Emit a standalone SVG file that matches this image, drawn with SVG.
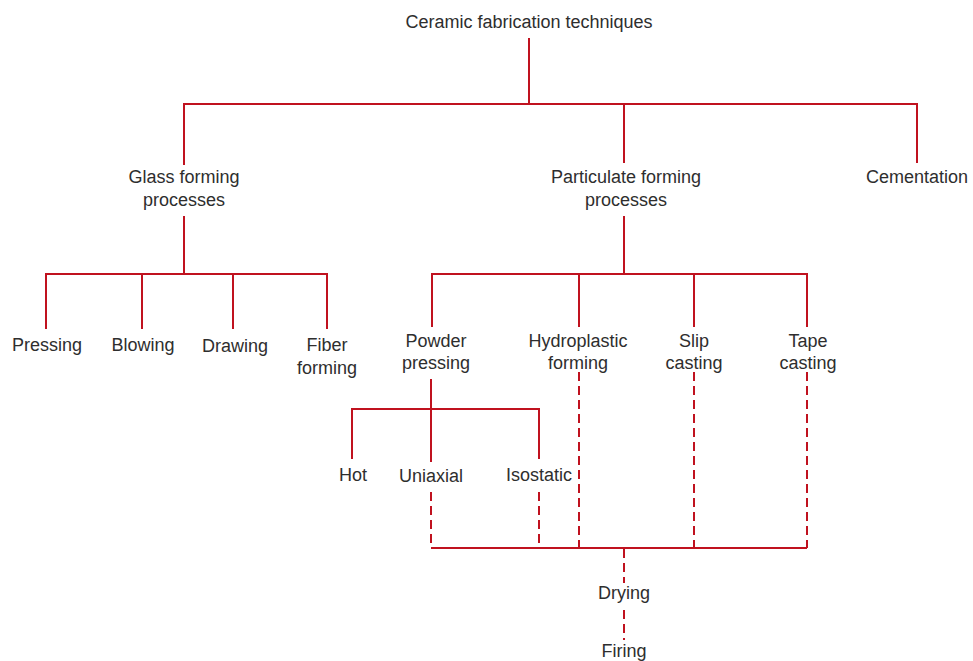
<svg xmlns="http://www.w3.org/2000/svg" width="973" height="661" viewBox="0 0 973 661">
<style>
text{font-family:"Liberation Sans",Arial,sans-serif;font-size:18px;fill:#2e2e2e;text-anchor:middle}
.s{stroke:#c0121f;stroke-width:2;fill:none}
.d{stroke:#c0121f;stroke-width:2;fill:none;stroke-dasharray:9,5}
</style>
<rect width="973" height="661" fill="#fff"/>
<g id="connectors">
<path class="s" d="M529,38V104M184,165V104H917V163M624,104V163"/>
<path class="s" d="M184,216V274M46,329V274H327V329M142,274V329M233,274V329"/>
<path class="s" d="M624,216V274M432,327V274H807V327M579,274V327M694,274V327"/>
<path class="s" d="M431,379V462M352,459V409H539V459"/>
<path class="d" d="M431,492V548M539,492V548M579,372V548M694,372V548M807,372V548"/>
<path class="s" d="M431,548H807"/>
<path class="d" d="M624,549V583M624,610V640"/>
</g>
<g id="n-root"><text x="529" y="28">Ceramic fabrication techniques</text></g>
<g id="n-glass"><text x="184" y="183">Glass forming</text><text x="184" y="206">processes</text></g>
<g id="n-particulate"><text x="626" y="183">Particulate forming</text><text x="626" y="206">processes</text></g>
<g id="n-cementation"><text x="917" y="183">Cementation</text></g>
<g id="n-pressing"><text x="47" y="351">Pressing</text></g>
<g id="n-blowing"><text x="143" y="351">Blowing</text></g>
<g id="n-drawing"><text x="235" y="352">Drawing</text></g>
<g id="n-fiber"><text x="327" y="351">Fiber</text><text x="327" y="374">forming</text></g>
<g id="n-powder"><text x="436" y="347">Powder</text><text x="436" y="369">pressing</text></g>
<g id="n-hydro"><text x="578" y="347">Hydroplastic</text><text x="578" y="369">forming</text></g>
<g id="n-slip"><text x="694" y="347">Slip</text><text x="694" y="369">casting</text></g>
<g id="n-tape"><text x="808" y="347">Tape</text><text x="808" y="369">casting</text></g>
<g id="n-hot"><text x="353" y="481">Hot</text></g>
<g id="n-uniaxial"><text x="431" y="482">Uniaxial</text></g>
<g id="n-isostatic"><text x="539" y="481">Isostatic</text></g>
<g id="n-drying"><text x="624" y="599">Drying</text></g>
<g id="n-firing"><text x="624" y="657">Firing</text></g>
</svg>
